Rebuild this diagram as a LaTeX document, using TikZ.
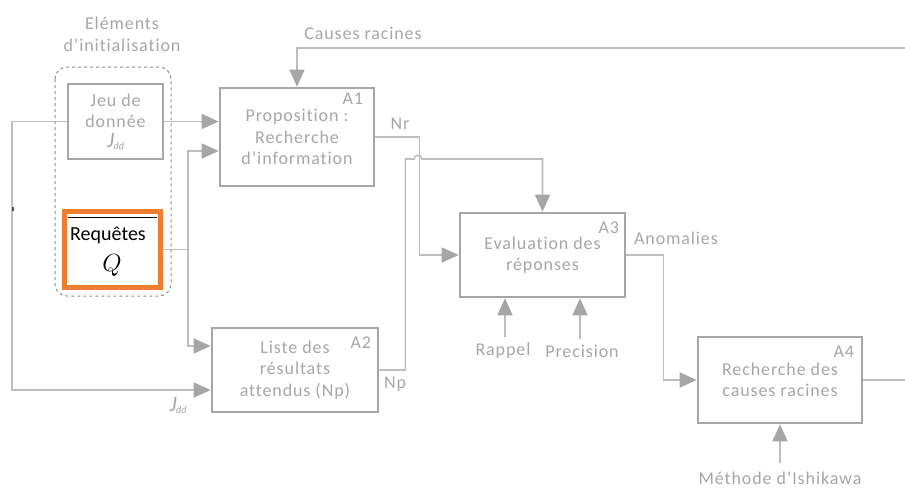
\documentclass[tikz,border=0pt]{standalone}
\usepackage{fontspec}
\setmainfont{Carlito}[LetterSpace=5, Ligatures=NoCommon]
\newfontfamily\plainf{Carlito}
\usetikzlibrary{arrows.meta}
\definecolor{boxgray}{HTML}{A6A6A6}
\definecolor{linegray}{HTML}{BDBDBD}
\definecolor{txtgray}{HTML}{A6A6A6}
\definecolor{dashgray}{HTML}{8C8C8C}
\definecolor{qorange}{HTML}{ED7D31}
\tikzset{
  fbox/.style={draw=boxgray, line width=2.6pt, fill=white, align=center, text=txtgray,
    font=\fontsize{18}{21.5}\selectfont, inner sep=0pt},
  conn/.style={draw=linegray, line width=1.6pt},
  arr/.style={conn, -{Triangle[length=17pt,width=15pt,fill=boxgray,color=boxgray]}},
  lbl/.style={text=txtgray, font=\fontsize{18}{22}\selectfont, inner sep=0pt, align=center},
  alabel/.style={text=txtgray, font=\fontsize{18}{20}\selectfont, inner sep=0pt, anchor=north east},
}
\newcommand{\jdd}{{\plainf\fontsize{22}{22}\selectfont\itshape J\kern-0.5pt{\fontsize{10}{10}\selectfont\raisebox{-2pt}{dd}}}}
\begin{document}
\begin{tikzpicture}[x=1pt,y=-1pt]
\useasboundingbox (0,0) rectangle (905,488);
% dashed group
\draw[dashgray, dashed, line width=1pt, rounded corners=12pt] (55,67) rectangle (171,296);
\node[lbl] (elem) at (122,34) {Eléments\\d’initialisation};
% input boxes
\node[fbox, line width=1.6pt, minimum width=95pt, minimum height=75pt] (jeu) at (115.5,121.5)
  {Jeu de\\donnée\\[-2pt]\jdd};
\node[draw=qorange, line width=5pt, fill=white, minimum width=96pt, minimum height=76pt, inner sep=0pt] (req) at (112.5,249.5) {};
\draw[black, line width=1pt] (68,217) -- (157,217);
\node[inner sep=0pt, text=black, font=\plainf\fontsize{20}{22}\selectfont] (reqt) at (108,235) {Requêtes};
\node[inner sep=0pt, text=black, font=\fontsize{24}{24}\selectfont] (qq) at (112,265) {$Q$};
% activity boxes
\node[fbox, minimum width=154pt, minimum height=98pt] (A1) at (297,137) {Proposition :\\Recherche\\d’information};
\node[fbox, minimum width=166pt, minimum height=84pt] (A2) at (295,370) {Liste des\\résultats\\attendus (Np)};
\node[fbox, minimum width=165pt, minimum height=84pt] (A3) at (542.5,255) {Evaluation des\\réponses};
\node[fbox, minimum width=164pt, minimum height=86pt] (A4) at (780,380) {Recherche des\\causes racines};
\node[alabel] (a1l) at ([xshift=-12pt,yshift=-6pt]A1.north east) {A1};
\node[alabel] (a2l) at ([xshift=-8pt,yshift=-10pt]A2.north east) {A2};
\node[alabel] (a3l) at ([xshift=-7pt,yshift=-10pt]A3.north east) {A3};
\node[alabel] (a4l) at ([xshift=-9pt,yshift=-10pt]A4.north east) {A4};
% labels
\node[lbl] (causes) at (363,33) {Causes racines};
\node[lbl] (nr) at (400,124) {Nr};
\node[lbl] (np) at (395,384) {Np};
\node[lbl] (anom) at (676,238) {Anomalies};
\node[lbl] (jdd) at (178,405) {\jdd};
\node[lbl] (rap) at (503,351) {Rappel};
\node[lbl] (prec) at (582,351) {Precision};
\node[lbl] (ishi) at (780,478) {Méthode d’Ishikawa};
% connectors
\coordinate (bx) at (188,0);
\draw[arr] (jeu.east) -- (jeu.east -| A1.west);
\draw[conn] (req.east) -- (req.east -| bx) coordinate (j);
\draw[arr] (j) |- ([yshift=-14pt]A1.west);
\draw[arr] (j) |- ([yshift=24pt]A2.west);
\draw[arr] (jeu.west) -- ++(-55,0) |- ([yshift=-20pt]A2.west);
\draw[dashgray!60!black, line width=1.6pt] (13,207) -- (13,211);
\draw[arr] (A1.east) -- ++(44,0) |- (A3.west);
\draw[arr] (A2.east) -- ++(26,0) coordinate (np1) -- (np1 |- 0,159) -- (414,159)
  .. controls (414,154) and (422,154) .. (422,159) -- (A3.north |- 0,159) -- (A3.north);
\draw[arr] (A3.east) -- ++(37,0) |- (A4.west);
\coordinate (outR) at (905,380);
\draw[conn] (A4.east) -- (outR);
\coordinate (topR) at (905,48);
\draw[arr] (topR) -- (A1.north |- topR) -- (A1.north);
\draw[arr] ([xshift=2pt,yshift=6pt]rap.north) -- ([xshift=2pt]rap.north |- A3.south);
\draw[arr] ([xshift=-2pt,yshift=6pt]prec.north) -- ([xshift=-2pt]prec.north |- A3.south);
\draw[arr] ([yshift=8pt]ishi.north) -- (ishi.north |- A4.south);
\end{tikzpicture}
\end{document}
